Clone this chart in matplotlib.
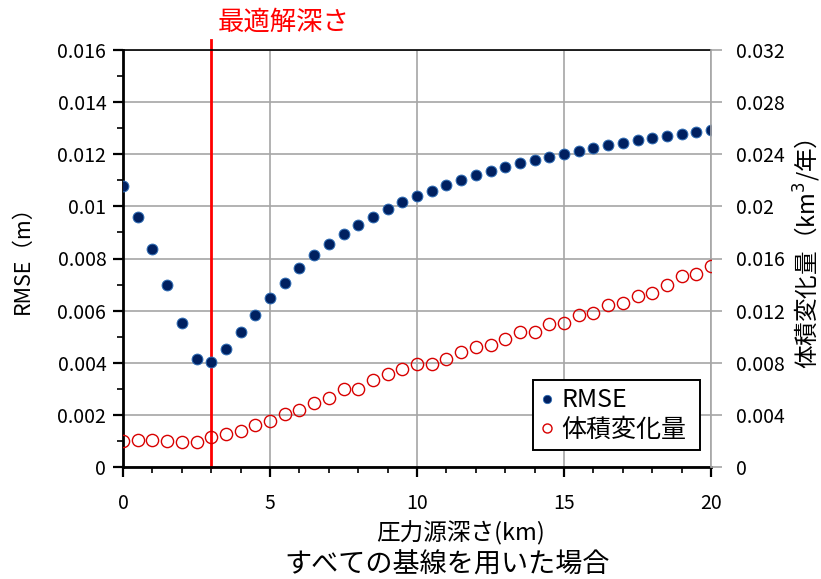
import numpy as np
import matplotlib
matplotlib.use("Agg")
import matplotlib.pyplot as plt
from matplotlib.ticker import MultipleLocator, FuncFormatter
from matplotlib.lines import Line2D

plt.rcParams['font.family'] = ['Noto Sans CJK JP', 'DejaVu Sans']

# Source depth (km), 0.5 km steps
depth = np.arange(0, 20.5, 0.5)

# RMSE of the fit (m)
rmse = [0.01078, 0.00960, 0.00835, 0.00700, 0.00551, 0.00413, 0.00403, 0.00452,
        0.00517, 0.00583, 0.00647, 0.00707, 0.00764, 0.00812, 0.00856, 0.00894,
        0.00930, 0.00960, 0.00989, 0.01016, 0.01040, 0.01060, 0.01082, 0.01100,
        0.01119, 0.01135, 0.01150, 0.01165, 0.01178, 0.01191, 0.01202, 0.01214,
        0.01225, 0.01234, 0.01244, 0.01254, 0.01264, 0.01271, 0.01279, 0.01285,
        0.01293]

# Volume change (km^3/year)
volume = [0.00200, 0.00205, 0.00207, 0.00200, 0.00194, 0.00194, 0.00228, 0.00251,
          0.00274, 0.00322, 0.00353, 0.00407, 0.00437, 0.00494, 0.00527, 0.00596,
          0.00596, 0.00668, 0.00711, 0.00750, 0.00788, 0.00788, 0.00831, 0.00880,
          0.00923, 0.00936, 0.00980, 0.01034, 0.01038, 0.01100, 0.01108, 0.01169,
          0.01180, 0.01241, 0.01256, 0.01312, 0.01338, 0.01394, 0.01464, 0.01484,
          0.01545]

best_depth = 3.0

title_text = "最適解深さ"
xlabel_text = "圧力源深さ(km)"
subtitle_text = "すべての基線を用いた場合"
ylabel_left = "RMSE（m）"
ylabel_right = "体積変化量（km$^3$/年）"
legend_labels = ["RMSE", "体積変化量"]

W, H = 821, 579
fig = plt.figure(figsize=(W / 100, H / 100), dpi=100)
ax = fig.add_axes([123 / W, 1 - 467 / H, (711 - 123) / W, (467 - 50) / H])
ax2 = ax.twinx()

navy = '#002060'
red_c = '#d80000'
grid_c = '#a6a6a6'

# optimum depth marker
ax.plot([best_depth, best_depth], [0, 0.0164], color='#ff0000', lw=2.0,
        clip_on=False, zorder=2)

ax.plot(depth, rmse, linestyle='none', marker='o', ms=7.8,
        markerfacecolor=navy, markeredgecolor='#2f6db5', markeredgewidth=0.7,
        zorder=4)
ax2.plot(depth, volume, linestyle='none', marker='o', ms=8.8,
         markerfacecolor='none', markeredgecolor=red_c, markeredgewidth=1.0,
         zorder=4)

ax.set_xlim(0, 20)
ax.set_ylim(0, 0.016)
ax2.set_ylim(0, 0.032)

fmt = FuncFormatter(lambda v, p: "0" if abs(v) < 1e-12 else f"{round(v, 6):g}")
ax.xaxis.set_major_locator(MultipleLocator(5))
ax.xaxis.set_minor_locator(MultipleLocator(1))
ax.yaxis.set_major_locator(MultipleLocator(0.002))
ax.yaxis.set_minor_locator(MultipleLocator(0.001))
ax.yaxis.set_major_formatter(fmt)
ax.xaxis.set_major_formatter(FuncFormatter(lambda v, p: f"{v:g}"))
ax2.yaxis.set_major_locator(MultipleLocator(0.004))
ax2.yaxis.set_major_formatter(fmt)

ax.grid(True, which='major', color=grid_c, lw=1.2, zorder=0)
ax.set_axisbelow(True)

for s in ['left', 'bottom']:
    ax.spines[s].set_linewidth(2.0)
    ax.spines[s].set_color('black')
ax.spines['top'].set_linewidth(1.2)
ax.spines['top'].set_color('black')
ax.spines['right'].set_visible(False)
ax2.spines['left'].set_visible(False)
ax2.spines['bottom'].set_visible(False)
ax2.spines['top'].set_visible(False)
ax2.spines['right'].set_color(grid_c)
ax2.spines['right'].set_linewidth(1.2)

ax.tick_params(axis='both', which='major', direction='out', length=7, width=1.6,
               color='black', labelsize=14, pad=5)
ax.tick_params(axis='both', which='minor', direction='out', length=4, width=1.2,
               color='black')
ax.tick_params(axis='x', which='major', pad=12)
ax.tick_params(axis='y', which='both', right=False)
ax.tick_params(axis='x', which='both', top=False)
ax2.tick_params(axis='y', which='major', direction='out', length=8, width=1.2,
                color=grid_c, labelsize=14, pad=10)

ax.set_ylabel(ylabel_left, fontsize=15.5, va='center')
ax.yaxis.set_label_coords((23 - 123) / 588, (467 - 254) / 417)
ax2.set_ylabel(ylabel_right, fontsize=17, va='center', rotation=90)
ax2.yaxis.set_label_coords((807 - 123) / 588, (467 - 254) / 417)

fig.text(284 / W, 1 - 22 / H, title_text, color='#ff0000', fontsize=19,
         ha='center', va='center')
fig.text(461 / W, 1 - 533 / H, xlabel_text, fontsize=17, ha='center', va='center')
fig.text(447 / W, 1 - 565 / H, subtitle_text, fontsize=19.5, ha='center', va='center')

handles = [
    Line2D([], [], linestyle='none', marker='o', ms=6, markerfacecolor=navy,
           markeredgecolor='#2f6db5', markeredgewidth=0.6),
    Line2D([], [], linestyle='none', marker='o', ms=6.5, markerfacecolor='none',
           markeredgecolor=red_c, markeredgewidth=1.0),
]
leg = ax2.legend(handles, legend_labels, loc='lower left',
                 bbox_to_anchor=(0.697, 0.041, 0.284, 0.16), mode='expand',
                 fontsize=18, frameon=True, fancybox=False, framealpha=1,
                 edgecolor='black', handlelength=0.5, handletextpad=0.35,
                 borderpad=0.3, labelspacing=0.12, borderaxespad=0)
leg.get_frame().set_linewidth(1.4)
leg.set_zorder(10)

fig.savefig("out.png", dpi=100)
